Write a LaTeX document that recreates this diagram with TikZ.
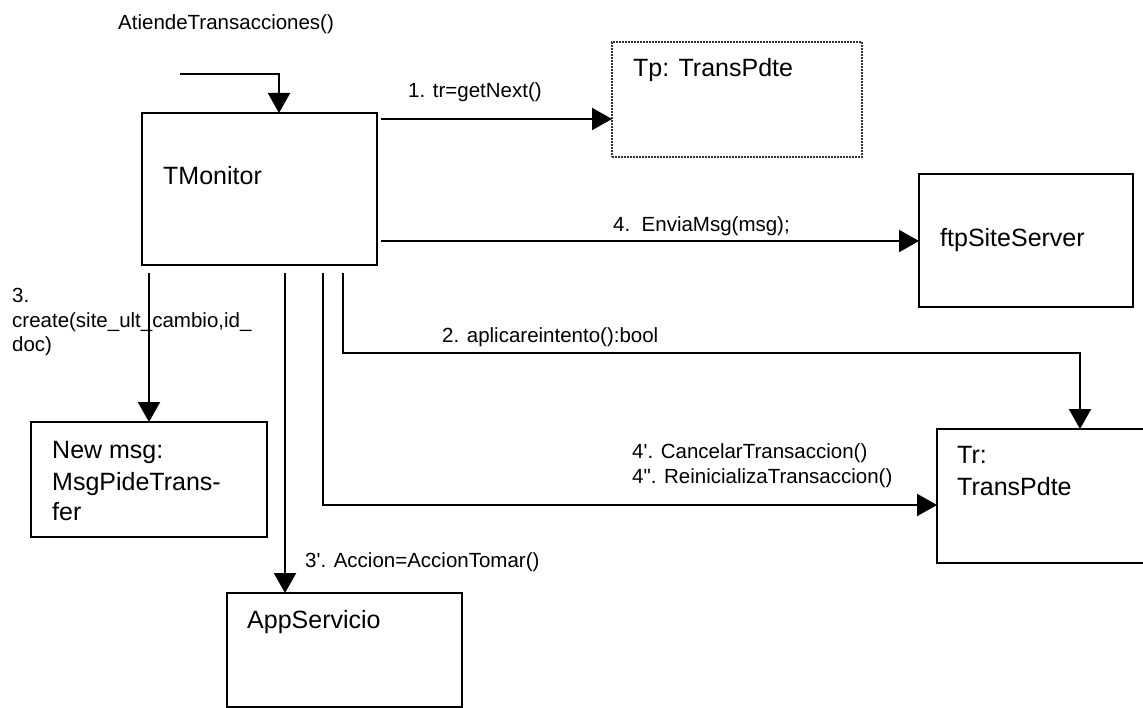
\documentclass[tikz,border=0pt]{standalone}
\usepackage{fontspec}
\setmainfont{Liberation Sans}
\usetikzlibrary{arrows.meta}
\begin{document}
\begin{tikzpicture}[x=1pt,y=-1pt,
  obj/.style={draw=black, line width=2pt, anchor=north west, inner sep=0pt, outer sep=0pt},
  objtxt/.style={anchor=base west, inner sep=0pt, font=\fontsize{25}{31}\selectfont},
  msgtxt/.style={anchor=base west, inner sep=0pt, font=\fontsize{20.5}{24}\selectfont},
  arr/.style={line width=2.2pt, -{Triangle[length=20pt,width=22pt]}}]
\useasboundingbox (0,0) rectangle (1143,708);
\clip (0,0) rectangle (1143,708);

% object boxes
\node[obj, minimum width=235pt, minimum height=152pt] (tmon) at (142,113) {};
\node[obj, draw=black!80, line width=1.6pt, dash pattern=on 1.6pt off 1.4pt,
      minimum width=250pt, minimum height=115pt] (tp) at (612,42) {};
\node[obj, minimum width=214pt, minimum height=133pt] (ftp) at (919,174) {};
\node[obj, minimum width=220pt, minimum height=134pt] (tr) at (937,429) {};
\node[obj, minimum width=236pt, minimum height=115pt] (newmsg) at (31,422) {};
\node[obj, minimum width=235pt, minimum height=114pt] (app) at (227,593) {};

% object names
\node[objtxt] (tmonlbl) at (163,185) {TMonitor};
\node[objtxt] (tplbl) at (633,77) {Tp: TransPdte};
\node[objtxt] (ftplbl) at (940,247) {ftpSiteServer};
\node[objtxt] (trlbl1) at (957,463) {Tr:};
\node[objtxt] (trlbl2) at (957,495) {TransPdte};
\node[objtxt] (nm1) at (52,458) {New msg:};
\node[objtxt] (nm2) at (52,490) {MsgPideTrans-};
\node[objtxt] (nm3) at (52,520) {fer};
\node[objtxt] (applbl) at (247,628) {AppServicio};

% message labels
\node[msgtxt] (entry) at (118,30) {AtiendeTransacciones()};
\node[msgtxt] (m1) at (408,98) {1. tr=getNext()};
\node[msgtxt] (m4) at (613,232) {4.\ \ EnviaMsg(msg);};
\node[msgtxt] (m2) at (442,343) {2. aplicareintento():bool};
\node[msgtxt] (m3a) at (12,303) {3.};
\node[msgtxt] (m3b) at (12,328) {create(site\_ult\_cambio,id\_};
\node[msgtxt] (m3c) at (12,352) {doc)};
\node[msgtxt] (m3p) at (305,567) {3\textquotesingle. Accion=AccionTomar()};
\node[msgtxt] (m4a) at (632,458) {4\textquotesingle. CancelarTransaccion()};
\node[msgtxt] (m4b) at (632,483) {4\textquotedbl. ReinicializaTransaccion()};

% connector end points
\coordinate (e0) at (180,74);
\coordinate (e1) at (279,74);
\coordinate (a1) at (381,119);
\coordinate (a4) at (381,241);
\coordinate (v1) at (149,273);
\coordinate (v2) at (285,273);
\coordinate (v3) at (323,273);
\coordinate (v3b) at (323,505);
\coordinate (v4) at (343,273);
\coordinate (v4b) at (343,353);
\coordinate (v4c) at (1080,353);

% connectors
\draw[arr] (e0) -- (e1) -- (e1 |- tmon.north);
\draw[arr] (a1) -- (a1 -| tp.west);
\draw[arr] (a4) -- (a4 -| ftp.west);
\draw[arr] (v1) -- (v1 |- newmsg.north);
\draw[arr] (v2) -- (v2 |- app.north);
\draw[arr] (v3) -- (v3b) -- (v3b -| tr.west);
\draw[arr] (v4) -- (v4b) -- (v4c) -- (v4c |- tr.north);
\end{tikzpicture}
\end{document}
